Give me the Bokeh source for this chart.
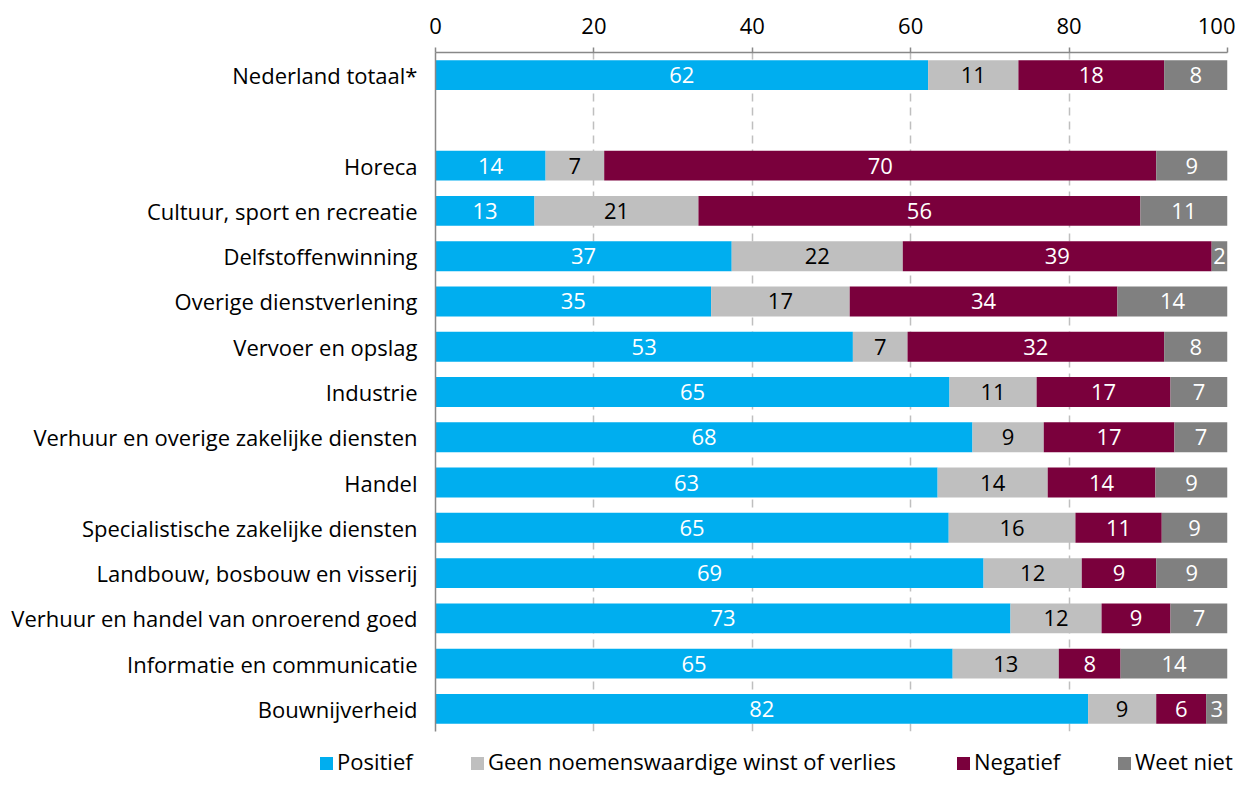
from bokeh.plotting import figure
from bokeh.models import ColumnDataSource, FactorRange, Range1d, FixedTicker, Div
from bokeh.layouts import column
from bokeh.core.properties import value
from bokeh.embed import file_html
from bokeh.resources import INLINE

categories = ["Nederland totaal*", "Horeca", "Cultuur, sport en recreatie", "Delfstoffenwinning",
              "Overige dienstverlening", "Vervoer en opslag", "Industrie",
              "Verhuur en overige zakelijke diensten", "Handel", "Specialistische zakelijke diensten",
              "Landbouw, bosbouw en visserij", "Verhuur en handel van onroerend goed",
              "Informatie en communicatie", "Bouwnijverheid"]

# bar lengths
positief = [62.2, 13.9, 12.5, 37.4, 34.8, 52.7, 64.9, 67.8, 63.4, 64.8, 69.2, 72.6, 65.3, 82.4]
geen = [11.4, 7.4, 20.7, 21.6, 17.5, 6.9, 11.0, 9.0, 13.9, 16.0, 12.4, 11.5, 13.4, 8.6]
negatief = [18.4, 69.7, 55.8, 39.0, 33.8, 32.4, 16.9, 16.5, 13.6, 10.9, 9.4, 8.7, 7.8, 6.3]
weet_niet = [8.0, 9.0, 11.0, 2.0, 13.9, 8.0, 7.2, 6.7, 9.1, 8.3, 9.0, 7.2, 13.5, 2.7]

# printed labels
positief_lbl = [62, 14, 13, 37, 35, 53, 65, 68, 63, 65, 69, 73, 65, 82]
geen_lbl = [11, 7, 21, 22, 17, 7, 11, 9, 14, 16, 12, 12, 13, 9]
negatief_lbl = [18, 70, 56, 39, 34, 32, 17, 17, 14, 11, 9, 9, 8, 6]
weet_niet_lbl = [8, 9, 11, 2, 14, 8, 7, 7, 9, 9, 9, 7, 14, 3]

series_names = ["Positief", "Geen noemenswaardige winst of verlies", "Negatief", "Weet niet"]
colors = ["#00AEEF", "#BFBFBF", "#7A003C", "#808080"]
label_colors = ["#FFFFFF", "#000000", "#FFFFFF", "#FFFFFF"]
x_ticks = [0, 20, 40, 60, 80, 100]
legend_left_px = [315, 466, 952, 1113]   # layout positions of the legend entries

FONT = "Open Sans"
FS = "22px"

factors = list(reversed([categories[0], " "] + categories[1:]))

src = ColumnDataSource(dict(cat=categories, pos=positief, neu=geen, neg=negatief, unk=weet_niet))

p = figure(width=1235, height=741, y_range=FactorRange(factors=factors, range_padding=0),
           x_range=Range1d(0, 100), x_axis_location="above",
           output_backend="svg", toolbar_location=None,
           min_border_left=435, min_border_right=8, min_border_top=52, min_border_bottom=10)
p.outline_line_color = None
p.background_fill_color = "white"

renderers = p.hbar_stack(["pos", "neu", "neg", "unk"], y="cat", height=0.66, color=colors,
                         line_color=None, source=src)

# value labels
lx, ly, lt, lc = [], [], [], []
stacks = [positief, geen, negatief, weet_niet]
lbls = [positief_lbl, geen_lbl, negatief_lbl, weet_niet_lbl]
for i, c in enumerate(categories):
    left = 0.0
    for s in range(4):
        w = stacks[s][i]
        lx.append(left + w / 2.0)
        ly.append(c)
        lt.append(str(lbls[s][i]))
        lc.append(label_colors[s])
        left += w
lsrc = ColumnDataSource(dict(x=lx, y=ly, t=lt, c=lc))
p.text(x="x", y="y", text="t", text_color="c", source=lsrc, text_align="center",
       text_baseline="middle", text_font=value(FONT), text_font_size=FS)

# axes
xa = p.xaxis[0]
xa.ticker = FixedTicker(ticks=x_ticks)
xa.axis_line_color = "#888888"
xa.axis_line_width = 1.5
xa.major_tick_line_color = "#888888"
xa.major_tick_line_width = 1.5
xa.major_tick_in = 0
xa.major_tick_out = 5
xa.minor_tick_line_color = None
xa.major_label_text_font = FONT
xa.major_label_text_font_size = FS
xa.major_label_text_color = "#000000"
xa.major_label_standoff = 14

ya = p.yaxis[0]
ya.axis_line_color = "#888888"
ya.axis_line_width = 1.5
ya.major_tick_line_color = None
ya.minor_tick_line_color = None
ya.major_label_text_font = FONT
ya.major_label_text_font_size = FS
ya.major_label_text_color = "#000000"
ya.major_label_standoff = 12

p.ygrid.grid_line_color = None
p.xgrid.ticker = FixedTicker(ticks=x_ticks)
p.xgrid.grid_line_color = "#BFBFBF"
p.xgrid.grid_line_width = 1.5
p.xgrid.grid_line_dash = "8 6"

# legend strip (HTML, below the chart)
items = []
for name, col, lft in zip(series_names, colors, legend_left_px):
    items.append(
        f'<span style="position:absolute;left:{lft}px;top:0;white-space:nowrap;line-height:30px;">'
        f'<span style="display:inline-block;width:13px;height:13px;background:{col};'
        f'margin-right:4px;vertical-align:0px;"></span>{name}</span>'
    )
html = ('<div style="position:relative;width:1235px;height:32px;font-family:\'Open Sans\';'
        'font-size:22px;color:#000000;">' + "".join(items) + '</div>')
legend_div = Div(text=html, width=1235, height=32)

open("out.html", "w").write(file_html(column(p, legend_div, spacing=0), INLINE))
